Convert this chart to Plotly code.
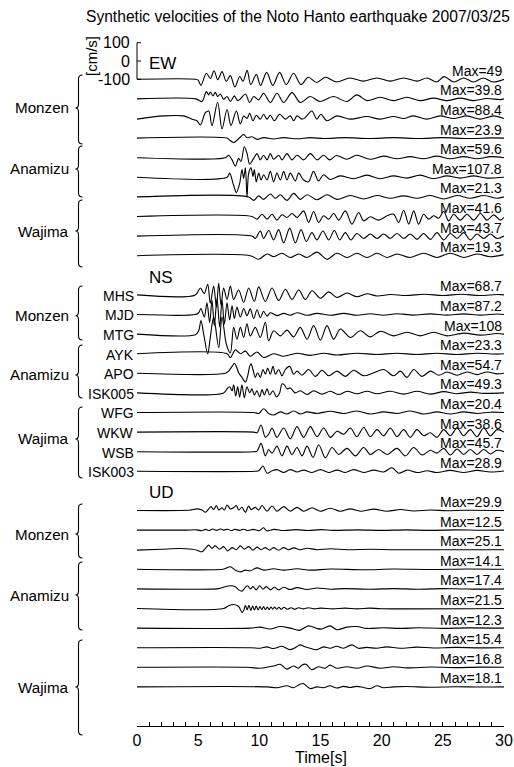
import plotly.graph_objects as go

TITLE = "Synthetic velocities of the Noto Hanto earthquake 2007/03/25"
COMPONENTS = ["EW", "NS", "UD"]
GROUPS = ["Monzen", "Anamizu", "Wajima"]
STATIONS = ["MHS", "MJD", "MTG", "AYK", "APO", "ISK005", "WFG", "WKW", "WSB", "ISK003"]
MAX_EW = [49, 39.8, 88.4, 23.9, 59.6, 107.8, 21.3, 41.6, 43.7, 19.3]
MAX_NS = [68.7, 87.2, 108, 23.3, 54.7, 49.3, 20.4, 38.6, 45.7, 28.9]
MAX_UD = [29.9, 12.5, 25.1, 14.1, 17.4, 21.5, 12.3, 15.4, 16.8, 18.1]
X_TICKS = [0, 5, 10, 15, 20, 25, 30]
SCALE_TICKS = [100, 0, -100]

# waveforms: (time [s], amplitude relative to the trace maximum)
EW_MHS = [(0,0),(4.8,0),(5.0,-0.1),(5.23,-0.68),(5.67,0.68),(6.0,0.09),(6.3,0.95),(6.6,-0.05),(6.95,0.86),(7.3,-0.23),(7.63,0.41),(8.0,-0.86),(8.4,0.32),(8.66,-0.23),(9.0,1.0),(9.3,-0.59),(9.75,0.55),(10.1,-0.68),(10.6,0.77),(11.1,-0.68),(11.66,0.77),(12.2,-0.59),(12.8,0.68),(13.4,-0.59),(14.0,0.23),(14.7,-0.36),(15.4,0.23),(16.3,-0.3),(17.4,0.15),(18.5,-0.2),(19.6,0.15),(20.7,-0.2),(21.8,0.15),(22.9,-0.2),(23.7,0.15),(24.5,-0.3),(25.1,0.3),(25.9,-0.3),(26.7,0.15),(27.5,-0.3),(28.3,0.15),(29.1,-0.3),(30,0)]
EW_MJD = [(0,0),(4.8,0),(5.31,-0.36),(5.67,1.0),(5.86,0.55),(6.0,0.95),(6.21,0.41),(6.4,0.91),(6.59,0.32),(6.81,0.68),(7.08,-0.05),(7.36,0.32),(7.63,-0.36),(7.96,0.41),(8.23,-0.23),(8.5,0.09),(8.86,0.68),(9.21,-0.5),(9.54,0.32),(9.95,-0.14),(10.35,0.77),(10.9,-0.5),(11.44,0.77),(11.99,-0.5),(12.67,0.86),(13.35,-0.5),(14.16,0.32),(14.97,-0.36),(16.06,0.32),(17.15,-0.36),(17.97,0.55),(18.79,-0.23),(19.88,0.23),(20.97,-0.23),(22.06,0.23),(23.15,-0.23),(24.24,0.1),(25.33,-0.23),(26.42,0.1),(27.51,-0.23),(28.6,0.05),(29.7,-0.1),(30,0)]
EW_MTG = [(0,-0.04),(2.18,0.16),(3.81,0.16),(4.5,-0.04),(4.9,-0.14),(5.18,-0.4),(5.59,0.36),(5.86,0.46),(6.13,-0.44),(6.59,1.0),(6.95,-0.64),(7.36,0.56),(7.68,-0.44),(8.12,0.46),(8.45,-0.34),(8.72,0.16),(8.99,0),(9.21,0.32),(9.48,-0.14),(9.75,0.2),(10.08,-0.04),(10.35,0.26),(10.63,-0.04),(10.9,0.2),(11.23,-0.14),(11.66,0.26),(12.13,-0.04),(12.53,0.16),(12.81,-0.14),(13.08,0.16),(13.49,-0.04),(13.75,0.06),(14.29,0.46),(14.7,-0.04),(15.03,0.26),(15.52,-0.14),(16.34,0.16),(17.43,-0.04),(18.79,0.12),(19.88,-0.04),(20.97,0.12),(21.79,0),(22.6,0.16),(23.69,-0.04),(24.78,0.16),(25.87,0),(26.96,0.16),(28.05,-0.04),(29.14,0.16),(30,0)]
EW_AYK = [(0,0),(7.36,0),(7.5,-0.3),(7.9,-1.0),(8.31,-0.15),(8.72,0.85),(8.99,0.1),(9.4,0.3),(9.81,-0.3),(10.35,0.1),(11.17,-0.2),(11.99,0.1),(13.08,-0.15),(14.17,0.1),(15.26,-0.1),(17,0.1),(19,-0.1),(21,0.1),(23,-0.1),(25,0.1),(27,-0.1),(29,0.05),(30,0)]
EW_APO = [(0,0),(7.22,0),(7.49,0.23),(7.77,-0.2),(8.04,-0.77),(8.31,-0.06),(8.5,-0.34),(8.77,1.0),(9.0,0.37),(9.21,-0.6),(9.54,-0.06),(9.81,0.37),(10.08,-0.2),(10.35,0.23),(10.63,-0.2),(10.9,0.37),(11.17,-0.14),(11.58,0.23),(11.85,-0.2),(12.26,0.37),(12.67,-0.2),(13.08,0.23),(13.62,-0.2),(14.17,0.37),(14.71,-0.2),(15.26,0.23),(15.75,-0.2),(16.3,0.2),(17.15,-0.14),(17.97,0.23),(19.06,-0.14),(20.15,0.14),(21.24,-0.1),(22.33,0.1),(23.42,-0.1),(24.5,0.14),(25.6,-0.1),(26.7,0.1),(27.8,-0.1),(28.9,0.1),(30,0)]
EW_ISK005 = [(0,0),(7.36,0),(7.57,0.21),(7.9,-0.41),(8.12,-0.77),(8.39,-0.32),(8.58,0.39),(8.72,-0.05),(8.86,0.48),(8.99,-1.0),(9.13,0.21),(9.32,0.48),(9.48,0.04),(9.59,0.39),(9.75,-0.23),(9.95,0.21),(10.14,-0.14),(10.35,0.13),(10.63,-0.14),(10.9,0.3),(11.17,-0.23),(11.44,0.21),(11.72,-0.14),(11.99,0.3),(12.26,-0.14),(12.53,0.21),(12.94,-0.18),(13.22,0.21),(13.62,-0.14),(14.02,-0.23),(14.43,0.3),(14.84,-0.18),(15.25,0.13),(15.79,-0.11),(16.6,0.07),(17.7,-0.07),(18.79,0.11),(19.88,-0.07),(20.97,0.07),(22.06,-0.04),(23.15,0.11),(24.24,-0.07),(25.33,0.07),(26.42,-0.04),(27.51,0.07),(28.6,-0.04),(30,0)]
EW_WFG = [(0,0),(9.13,0),(9.54,-0.9),(9.95,0.27),(10.35,-0.64),(10.9,0.73),(11.31,-0.36),(11.72,0.55),(12.26,-0.9),(12.81,0.9),(13.35,-0.64),(13.9,0.55),(14.71,-0.73),(15.53,0.55),(16.35,-0.64),(17.44,0.36),(18.53,-0.55),(19.62,0.36),(20.71,-0.36),(21.8,0.27),(22.89,-0.36),(23.98,0.36),(25.07,-0.55),(26.16,0.36),(27.25,-0.36),(28.34,0.36),(29.43,-0.36),(30,0)]
EW_WKW = [(0,0),(9.4,0),(9.81,-0.35),(10.22,0.3),(10.63,-0.35),(11.04,0.3),(11.44,-0.48),(11.85,0.22),(12.26,-0.13),(12.67,0.39),(13.08,-0.13),(13.62,0.74),(14.03,-0.78),(14.44,0.65),(14.85,-0.78),(15.26,0.09),(15.67,-0.35),(16.08,0.39),(16.49,-0.48),(17.03,0.74),(17.57,-1.0),(18.12,0.52),(18.53,-0.57),(19.07,-0.04),(19.75,-0.48),(20.44,0.09),(20.98,0.3),(21.39,-0.78),(21.8,0.83),(22.21,-1.0),(22.62,0.74),(23.02,-1.0),(23.43,0.3),(23.84,-0.35),(24.25,0.09),(24.66,-0.22),(25.07,0.65),(25.48,-0.57),(25.89,0.3),(26.43,-0.48),(26.98,0.3),(27.52,-0.48),(28.07,0.39),(28.61,-0.48),(29.16,0.22),(29.7,-0.48),(30,-0.1)]
EW_WSB = [(0,0),(9.4,0),(9.67,-0.3),(10.08,0.63),(10.35,-0.3),(10.76,0.7),(11.17,-0.48),(11.58,0.81),(11.99,-0.85),(12.48,1.0),(12.94,-0.85),(13.41,0.81),(13.84,-0.67),(14.3,0.44),(14.71,-0.48),(15.2,0.63),(15.67,-0.48),(16.13,0.7),(16.57,-0.48),(17.03,0.44),(17.49,-0.48),(17.98,0.33),(18.53,-0.3),(19.07,0.26),(19.62,-0.3),(20.16,0.26),(20.71,-0.3),(21.25,0.33),(21.8,-0.3),(22.34,0.26),(22.89,-0.41),(23.43,0.33),(23.98,-0.41),(24.52,0.44),(25.07,-0.48),(25.61,0.33),(26.16,-0.3),(26.7,0.44),(27.25,-0.48),(27.79,0.26),(28.34,-0.3),(28.88,0.26),(29.43,-0.3),(30,0)]
EW_ISK003 = [(0,0),(9.26,0),(9.95,-1.0),(10.63,0.5),(11.17,-0.3),(11.85,0.7),(12.53,-0.5),(13.22,0.5),(13.9,-0.5),(14.71,1.0),(15.53,-1.0),(16.35,0.7),(17.17,-0.5),(17.98,0.7),(18.8,-0.5),(19.62,0.7),(20.44,-0.5),(21.25,0.5),(22.34,-0.5),(23.43,0.7),(24.52,-0.5),(25.61,0.7),(26.7,-0.5),(27.79,0.5),(28.88,-0.3),(29.97,0.3)]

NS_MHS = [(0,0),(4.77,0),(5.18,0.55),(5.5,0.1),(5.78,0.85),(5.99,-0.67),(6.27,0.7),(6.49,-0.97),(6.68,0.94),(6.87,-0.82),(7.08,0.55),(7.36,-0.36),(7.63,0.7),(7.9,-0.36),(8.31,0.39),(8.72,-0.58),(9.13,0.55),(9.59,-0.52),(9.95,0.64),(10.49,-0.52),(11.04,0.55),(11.58,-0.45),(12.13,0.45),(12.67,-0.36),(13.22,0.39),(13.76,-0.36),(14.31,0.33),(14.99,-0.27),(15.67,0.24),(16.35,-0.21),(17.17,0.15),(17.98,-0.15),(18.8,0.09),(19.62,-0.09),(20.71,0.03),(22,-0.05),(23.5,0.05),(25,-0.05),(26.5,0.05),(28,-0.05),(29.5,0.03),(30,0)]
NS_MJD = [(0,0),(4.77,0),(5.04,0.11),(5.23,0.38),(5.5,-0.16),(5.72,0.73),(5.94,-0.52),(6.13,0.91),(6.32,-0.7),(6.54,1.0),(6.76,-0.79),(6.95,0.91),(7.14,-0.61),(7.36,0.73),(7.57,-0.34),(7.77,0.55),(7.96,-0.25),(8.17,0.46),(8.45,-0.16),(8.72,0.38),(8.99,-0.07),(9.26,0.35),(9.54,-0.25),(9.81,0.3),(10.08,-0.2),(10.35,0.2),(10.63,-0.1),(10.9,0.11),(11.44,-0.07),(11.99,0.07),(12.53,-0.05),(13.08,0.11),(13.9,-0.05),(14.71,0.07),(15.8,-0.05),(16.9,0.07),(17.98,-0.05),(19.07,0.05),(20.16,-0.05),(21.25,0.05),(22.6,-0.04),(23.98,0.04),(25.34,-0.04),(26.7,0.04),(28.07,-0.04),(29.43,0.03),(30,0)]
NS_MTG = [(0,0),(4.77,-0.03),(5.04,0.17),(5.23,0.69),(5.45,0),(5.78,-1.0),(5.99,-0.17),(6.27,0.86),(6.68,-0.69),(6.95,0.86),(7.3,-0.5),(7.63,-0.95),(7.9,0.34),(8.17,-0.26),(8.45,0.34),(8.72,-0.17),(8.99,0.52),(9.26,-0.09),(9.67,0.34),(10.08,-0.17),(10.49,0.6),(10.76,-0.34),(11.17,0.17),(11.72,-0.09),(12.26,0.2),(12.8,-0.14),(13.35,0.34),(13.9,-0.26),(14.44,0.43),(14.99,-0.31),(15.53,0.43),(16.08,-0.26),(16.62,0.26),(17.44,-0.17),(18.26,0.17),(19.07,-0.14),(19.89,0.14),(20.98,-0.09),(22.07,0.09),(23.16,-0.09),(24.25,0.09),(25.34,-0.09),(26.7,0.05),(28.07,-0.05),(29.43,0.03),(30,0)]
NS_AYK = [(0,0),(7.36,0),(7.63,-0.9),(8.04,0.9),(8.45,0),(8.86,0.6),(9.26,-0.6),(9.81,0.4),(10.35,-0.9),(11.17,0),(11.99,-0.6),(13.08,0.1),(14.17,-0.4),(15.26,0.1),(16.35,-0.3),(17.98,0.1),(19.62,-0.2),(21.25,0.1),(22.89,-0.2),(24.52,0.1),(26.16,-0.2),(27.79,0.1),(29.43,-0.1),(30,0)]
NS_APO = [(0,0),(7.22,0),(7.49,0.22),(7.77,0.69),(7.96,1.0),(8.12,0.69),(8.31,0.06),(8.58,-0.41),(8.86,-0.88),(9.05,-0.25),(9.21,0.69),(9.32,0.94),(9.48,0.38),(9.67,-0.41),(9.86,0.06),(10.08,-0.41),(10.3,0.38),(10.49,-0.09),(10.68,0.53),(10.9,-0.09),(11.12,0.69),(11.31,-0.09),(11.58,0.38),(11.85,-0.25),(12.13,0.38),(12.48,0.69),(12.81,-0.09),(13.08,0.22),(13.49,-0.19),(14.03,0.38),(14.58,-0.31),(15.12,0.31),(15.67,-0.25),(16.35,0.22),(17.03,-0.31),(17.71,0.31),(18.53,-0.25),(19.35,0.06),(20.16,0.38),(20.98,-0.25),(21.53,0.22),(22.07,-0.41),(22.62,0.38),(23.3,-0.31),(23.98,0.22),(24.66,-0.19),(25.34,0.13),(26.16,-0.19),(26.98,0.13),(27.79,-0.13),(28.61,0.13),(29.43,-0.06),(30,0)]
NS_ISK005 = [(0,0),(7.08,0),(7.36,0.45),(7.57,0.68),(7.77,0.23),(7.9,0.91),(8.07,-0.36),(8.23,0.68),(8.39,-0.45),(8.58,0.91),(8.77,-0.55),(8.99,0.68),(9.21,0),(9.4,0.45),(9.59,-0.23),(9.81,0.23),(10.03,-0.45),(10.22,0.36),(10.41,-0.23),(10.63,0.45),(10.84,-0.23),(11.12,0.23),(11.39,-0.45),(11.66,0),(11.85,1.0),(12.04,0.91),(12.26,0.45),(12.53,0.55),(12.94,0),(13.35,0.23),(13.9,-0.18),(14.44,0.23),(15.12,-0.14),(15.8,0.18),(16.49,-0.18),(17.17,0.18),(17.98,-0.09),(18.8,0.18),(19.62,-0.09),(20.71,0.18),(21.8,-0.14),(22.89,0.18),(23.98,-0.14),(25.07,0.14),(26.16,-0.09),(27.25,0.09),(28.34,-0.05),(30,0)]
NS_WFG = [(0,0),(9.54,0),(9.95,-0.25),(10.35,1.0),(10.76,-0.25),(11.17,-0.67),(11.72,0.17),(12.26,-0.42),(12.81,0.42),(13.35,-0.42),(13.9,0.17),(14.71,-0.25),(15.8,0.33),(16.89,-0.25),(17.98,0.42),(19.07,-0.42),(20.16,0.17),(21.25,-0.25),(22.34,0.42),(23.43,-0.42),(24.52,0.17),(25.61,-0.42),(26.7,0.17),(27.79,-0.25),(28.88,0.08),(30,0)]
NS_WKW = [(0,0),(9.54,0),(9.81,-0.09),(10.14,1.0),(10.49,-0.74),(10.76,-0.3),(11.04,0.57),(11.44,-0.74),(11.99,0.57),(12.53,-0.96),(13.08,0.78),(13.62,-0.74),(14.17,0.78),(14.71,-0.65),(15.26,0.57),(15.8,-0.74),(16.35,0.13),(16.89,-0.3),(17.44,0.57),(17.98,-0.65),(18.53,0.65),(19.07,-0.65),(19.62,0.35),(20.16,-0.52),(20.71,0.57),(21.25,-0.65),(21.8,0.35),(22.34,-0.74),(22.89,0.35),(23.43,-0.52),(23.98,-0.09),(24.52,-0.74),(25.07,0.35),(25.61,-0.52),(26.16,0.57),(26.7,-0.52),(27.25,0.35),(27.79,-0.65),(28.34,0.57),(28.88,-0.52),(29.43,0.35),(30,0)]
NS_WSB = [(0,0),(9.54,0),(9.81,0.07),(10.14,1.0),(10.49,-0.5),(10.76,0.27),(11.04,-0.17),(11.44,0.67),(11.85,-0.5),(12.26,0.67),(12.67,-0.33),(13.08,0.5),(13.49,-0.5),(13.9,0.67),(14.39,-0.67),(14.85,0.83),(15.4,-0.73),(15.94,0.5),(16.49,-0.33),(17.17,0.4),(17.85,-0.5),(18.53,0.5),(19.07,-0.33),(19.75,0.27),(20.44,-0.33),(21.25,0.4),(21.93,-0.5),(22.62,0.5),(23.3,-0.4),(23.98,0.17),(24.52,-0.17),(25.07,0.4),(25.61,-0.4),(26.16,0.33),(26.7,-0.33),(27.25,0.27),(27.79,-0.33),(28.34,0.27),(28.88,-0.27),(29.43,0.17),(30,0)]
NS_ISK003 = [(0,0),(9.67,0),(9.95,0.09),(10.3,1.0),(10.63,-0.36),(11.04,0.09),(11.44,0.32),(11.99,-0.23),(12.53,0.32),(13.08,-0.14),(13.62,0.23),(14.31,-0.23),(14.99,0.32),(15.67,-0.23),(16.35,0.23),(17.03,-0.23),(17.71,0.32),(18.53,-0.23),(19.35,0.23),(20.16,-0.14),(20.84,0.68),(21.39,-0.36),(22.07,0.23),(22.89,-0.23),(23.71,0.09),(24.52,-0.23),(25.61,0.18),(26.7,-0.23),(27.79,0.18),(28.88,-0.14),(30,0.05)]

UD_MHS = [(0,0),(3.54,0),(4.36,0.08),(4.9,0.29),(5.31,0.08),(5.59,-0.33),(5.86,0.29),(6.05,0.71),(6.27,0.17),(6.49,0.92),(6.68,0.08),(6.95,0.5),(7.14,0.08),(7.36,1.0),(7.63,0.29),(7.9,0.5),(8.12,0.92),(8.31,0.08),(8.58,0.58),(8.86,-0.33),(9.13,0.83),(9.32,0.17),(9.67,0.58),(9.95,0.08),(10.22,0.92),(10.63,-0.13),(11.04,0.83),(11.44,-0.13),(11.99,0.71),(12.53,-0.13),(13.08,0.58),(13.62,-0.13),(14.31,0.5),(14.99,-0.13),(15.8,0.42),(16.62,-0.13),(17.44,0.29),(18.26,-0.13),(19.35,0.25),(20.44,-0.13),(21.53,0.17),(22.62,-0.08),(23.98,0.08),(25.34,-0.04),(26.7,0.04),(30,0)]
UD_MJD = [(0,0),(4.0,0),(4.9,0.1),(5.3,-0.3),(5.6,0.3),(5.9,-0.2),(6.2,0.5),(6.5,-0.1),(6.8,0.5),(7.1,0),(7.4,0.4),(7.7,-0.2),(8.0,0.3),(8.4,-0.1),(8.7,0.4),(9.0,-0.2),(9.5,0.3),(10.0,-0.2),(10.35,1.0),(10.6,-0.3),(11.2,0.3),(12,-0.2),(13,0.2),(14,-0.2),(15,0.2),(16,-0.1),(18,0.1),(20,-0.1),(22,0.1),(24,-0.1),(26,0.1),(28,-0.05),(30,0)]
UD_MTG = [(0,-0.1),(2,0.1),(3.5,0.25),(4.5,0.1),(4.9,-0.1),(5.31,-0.45),(5.59,0.28),(5.86,1.0),(6.13,0.28),(6.4,0.83),(6.76,0.11),(7.08,0.67),(7.41,-0.28),(7.77,0.45),(8.12,0),(8.45,0.83),(8.77,0.11),(9.13,0.67),(9.48,-0.11),(9.81,0.56),(10.14,0),(10.49,0.45),(10.84,-0.11),(11.17,0.45),(11.58,-0.11),(11.99,0.45),(12.4,0),(12.81,0.39),(13.35,0),(13.9,0.33),(14.71,0),(15.8,0.22),(17.17,0),(19,0.1),(21.25,0),(30,0)]
UD_AYK = [(0,0),(7.0,0),(7.22,0.3),(7.63,1.0),(8.04,-0.33),(8.45,-1.0),(8.86,-0.33),(9.26,-0.55),(9.81,0.55),(10.35,-0.33),(11.17,0.22),(11.99,-0.33),(13.08,0.22),(14.17,-0.33),(15.8,0.1),(18.5,-0.2),(21,0.1),(24,-0.1),(27,0.1),(30,0)]
UD_APO = [(0,0),(6.54,0),(6.81,0.2),(7.22,0.7),(7.63,1.0),(8.04,0.7),(8.31,-0.3),(8.58,-0.7),(8.86,0.5),(9.05,1.0),(9.26,0),(9.48,0.7),(9.75,-0.3),(10.03,1.0),(10.3,-0.1),(10.57,0.7),(10.9,-0.3),(11.23,0.5),(11.58,-0.3),(11.99,0.5),(12.53,-0.2),(13.08,0.4),(13.9,-0.2),(14.71,0.3),(15.8,-0.1),(17,0.1),(19,-0.1),(21,0.1),(23,-0.1),(25,0.1),(27,-0.05),(30,0)]
UD_ISK005 = [(0,0),(7.08,0),(7.49,0.7),(7.9,1.0),(8.31,0.5),(8.58,-1.0),(8.72,-0.5),(8.86,0.8),(9.0,-0.3),(9.15,0.8),(9.3,-0.5),(9.45,0.6),(9.6,-0.4),(9.75,0.6),(9.9,-0.4),(10.05,0.5),(10.2,-0.3),(10.35,0.5),(10.5,-0.3),(10.65,0.4),(10.8,-0.3),(10.95,0.4),(11.1,-0.2),(11.25,0.4),(11.4,-0.2),(11.6,0.3),(11.8,-0.2),(12.0,0.3),(12.3,-0.2),(12.6,0.2),(12.9,-0.2),(13.2,0.2),(13.6,-0.1),(14.0,0.2),(14.5,-0.1),(15,0.1),(16,-0.1),(17,0.1),(18,-0.1),(19,0.1),(20,-0.05),(30,0)]
UD_WFG = [(0,0),(9.26,0),(10.06,0.43),(10.88,-0.43),(11.7,0.71),(12.51,0),(13.28,-1.0),(14.02,1.0),(14.7,-0.14),(15.1,-0.43),(15.79,1.0),(16.34,-0.71),(17.15,0.43),(17.97,0.71),(18.79,-0.14),(20.15,0.14),(21.5,-0.14),(23,0.14),(25,-0.1),(27,0.1),(30,0)]
UD_WKW = [(0,0),(9.26,0),(10.06,-0.2),(10.6,0.3),(11.16,-0.3),(11.84,0.5),(12.51,-0.7),(13.06,0.3),(13.33,1.0),(13.74,0.3),(14.15,-0.2),(14.7,-0.7),(15.24,0.3),(15.79,-0.2),(16.33,0.5),(16.88,-0.2),(17.56,1.0),(18.1,-0.2),(18.79,0.1),(19.6,-0.2),(20.42,0.3),(21.5,-0.2),(22.87,0.2),(24.23,-0.1),(26,0.1),(28,-0.05),(30,0)]
UD_WSB = [(0,0),(9.0,0),(10.06,-0.3),(11.15,0.4),(11.7,1.0),(12.25,-0.6),(12.79,0.4),(13.2,-0.3),(13.47,0.7),(13.81,1.0),(14.28,-0.8),(14.83,0.2),(15.37,-0.3),(15.79,0.7),(16.33,-0.3),(17.15,0.2),(17.97,-0.3),(18.79,0.4),(19.88,-0.3),(20.97,0.2),(22.06,-0.2),(24,0.1),(26,-0.1),(28,0.05),(30,0)]
UD_ISK003 = [(0,0),(10.6,0),(11.44,-0.25),(12.25,0.33),(12.79,-0.25),(13.33,0.83),(13.6,1.0),(14.15,-0.5),(14.7,0),(15.24,-0.25),(15.79,0.33),(16.33,-0.33),(16.88,0.17),(17.42,-0.17),(17.97,0.17),(18.51,-0.17),(19.06,-0.5),(19.6,0.33),(20.15,-0.25),(20.97,0),(22,0.1),(24,-0.1),(26,0.05),(28,-0.05),(30,0)]

WAVES = {
    "EW": [EW_MHS, EW_MJD, EW_MTG, EW_AYK, EW_APO, EW_ISK005, EW_WFG, EW_WKW, EW_WSB, EW_ISK003],
    "NS": [NS_MHS, NS_MJD, NS_MTG, NS_AYK, NS_APO, NS_ISK005, NS_WFG, NS_WKW, NS_WSB, NS_ISK003],
    "UD": [UD_MHS, UD_MJD, UD_MTG, UD_AYK, UD_APO, UD_ISK005, UD_WFG, UD_WKW, UD_WSB, UD_ISK003],
}
MAXES = {"EW": MAX_EW, "NS": MAX_NS, "UD": MAX_UD}

# ---------------- layout geometry (pixels) ----------------
W, H = 514, 767
ML, MR, MT, MB = 137, 10, 0, 41
PW, PH = W - ML - MR, H - MT - MB
PX_PER_100 = 18.3          # vertical size of 100 cm/s
FIRST_BASE_PX = 79.3       # baseline of first trace (value -100)
SLOT_PX = 19.6
COMP_SLOT0 = {"EW": 0, "NS": 11, "UD": 22}

def px_to_val(py):
    return -100 - (py - FIRST_BASE_PX) * 100.0 / PX_PER_100

def xp(px):
    return (px - ML) / PW

def yp(py):
    return (MT + PH - py) / PH

YRANGE = [px_to_val(MT + PH), px_to_val(MT)]

fig = go.Figure()
for comp in COMPONENTS:
    for i, wave in enumerate(WAVES[comp]):
        base_px = FIRST_BASE_PX + SLOT_PX * (COMP_SLOT0[comp] + i)
        base = px_to_val(base_px)
        mx = MAXES[comp][i]
        fig.add_trace(go.Scatter(
            x=[p[0] for p in wave], y=[base + p[1] * mx for p in wave],
            mode="lines", line=dict(color="black", width=1.1, shape="spline", smoothing=0.9),
            hoverinfo="skip", showlegend=False))

ann = []
shapes = []
FONT = "Liberation Sans, Arial, Helvetica, sans-serif"

def text(x, y, s, size, xanchor="center", yanchor="middle", angle=0):
    ann.append(dict(x=xp(x), y=yp(y), xref="paper", yref="paper", text=s, showarrow=False,
                    xanchor=xanchor, yanchor=yanchor, textangle=angle,
                    font=dict(family=FONT, size=size, color="black")))

text(298, 16, TITLE, 15.6)

# Max labels, station labels
for comp in COMPONENTS:
    for i in range(10):
        base_px = FIRST_BASE_PX + SLOT_PX * (COMP_SLOT0[comp] + i)
        text(504, base_px - 8.5, "Max=%g" % MAXES[comp][i], 14, xanchor="right")
        if comp == "NS":
            text(136, base_px + 0.8, STATIONS[i], 14, xanchor="right")

# component labels
for comp, py in zip(COMPONENTS, [63, 277, 492]):
    text(147, py, comp, 17, xanchor="left")

# scale bar
shapes.append(dict(type="line", xref="paper", yref="y", x0=0, x1=0, y0=-100, y1=100,
                   line=dict(color="black", width=1)))
for tv in SCALE_TICKS:
    shapes.append(dict(type="line", xref="paper", yref="y", x0=0, x1=xp(ML + 4), y0=tv, y1=tv,
                       line=dict(color="black", width=1)))
    ann.append(dict(x=xp(ML - 5), y=tv, xref="paper", yref="y", text=str(tv), showarrow=False,
                    xanchor="right", yanchor="middle", font=dict(family=FONT, size=16, color="black")))
text(91, 56, "[cm/s]", 15, angle=-90)

# group braces and labels: (top px, bottom px, label px) per component
BRACES = {
    "EW": [(75, 144, 108), (146, 197, 169), (200, 267, 231)],
    "NS": [(286, 340, 315.7), (345, 398, 375), (407, 478, 439)],
    "UD": [(504, 558, 534), (562, 630, 595), (640, 735, 687)],
}
for comp in COMPONENTS:
    for g, (t0, t1, lab) in enumerate(BRACES[comp]):
        xr, xm, xt = 82.5, 78.5, 75.5
        mid = lab
        path = (f"M {xp(xr)},{yp(t0)} Q {xp(xm)},{yp(t0)} {xp(xm)},{yp(t0+4)} "
                f"L {xp(xm)},{yp(mid-4)} Q {xp(xm)},{yp(mid)} {xp(xt)},{yp(mid)} "
                f"Q {xp(xm)},{yp(mid)} {xp(xm)},{yp(mid+4)} "
                f"L {xp(xm)},{yp(t1-4)} Q {xp(xm)},{yp(t1)} {xp(xr)},{yp(t1)}")
        shapes.append(dict(type="path", xref="paper", yref="paper", path=path,
                           line=dict(color="black", width=1.1)))
        text(71, lab, GROUPS[g], 15.2, xanchor="right")

text(320.5, 757, "Time[s]", 16)

fig.update_layout(
    width=W, height=H, margin=dict(l=ML, r=MR, t=MT, b=MB, autoexpand=False),
    paper_bgcolor="white", plot_bgcolor="white",
    annotations=ann, shapes=shapes,
    xaxis=dict(range=[0, 30], showgrid=False, zeroline=False, showline=True, linecolor="black",
               linewidth=1, ticks="inside", ticklen=4, tickcolor="black", tickvals=X_TICKS,
               tickfont=dict(family=FONT, size=16, color="black"),
               minor=dict(dtick=1, ticks="inside", ticklen=4, tickcolor="black")),
    yaxis=dict(range=YRANGE, visible=False),
)
fig.write_html("out.html")
